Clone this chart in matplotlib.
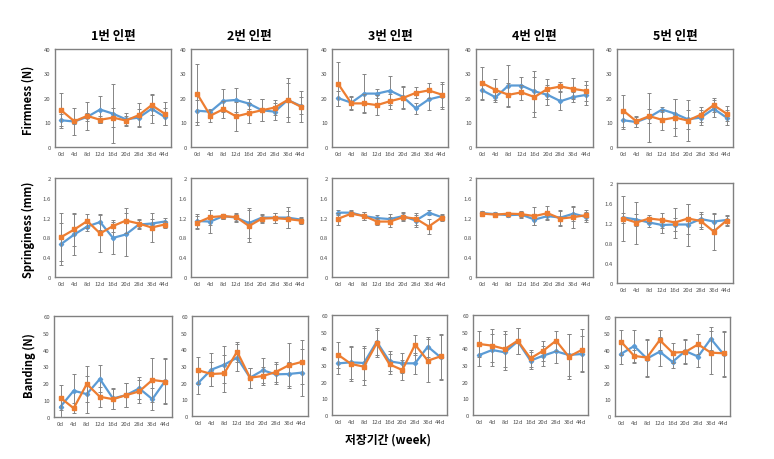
import matplotlib.pyplot as plt

plt.rcParams['font.family'] = ['Noto Sans CJK KR', 'DejaVu Sans']

days = ["0d", "4d", "8d", "12d", "16d", "20d", "28d", "36d", "44d"]
titles = ["1번 인편", "2번 인편", "3번 인편", "4번 인편", "5번 인편"]
ylabels = ["Firmness (N)", "Springiness (mm)", "Banding (N)"]

# Firmness (N): blue / orange series for each 인편
firm_b = [[10.9, 10.4, 12.3, 15.3, 13.6, 11.3, 12.0, 15.6, 12.3],
          [14.8, 14.4, 18.8, 19.2, 17.7, 15.0, 14.4, 19.2, 16.8],
          [19.9, 18.1, 21.8, 21.8, 23.0, 20.5, 15.8, 19.4, 20.7],
          [23.1, 20.3, 25.1, 25.1, 22.7, 21.3, 18.7, 20.4, 21.3],
          [10.9, 10.2, 12.2, 15.3, 13.6, 11.3, 12.0, 15.6, 12.0]]
firm_o = [[14.9, 10.5, 12.7, 11.1, 12.0, 10.8, 13.0, 17.1, 13.6],
          [21.5, 12.8, 15.4, 12.5, 13.8, 15.0, 16.1, 19.2, 16.5],
          [25.6, 17.8, 17.8, 17.1, 18.7, 20.0, 22.1, 23.1, 21.4],
          [26.0, 23.3, 21.3, 22.3, 20.4, 23.7, 24.7, 23.7, 22.9],
          [14.8, 10.5, 12.6, 11.1, 12.0, 10.8, 13.2, 17.1, 13.6]]
firm_b_err = [[2.5, 1.0, 1.5, 5.5, 12.0, 2.6, 3.5, 6.0, 3.5],
              [4.5, 1.2, 4.7, 5.0, 2.0, 4.5, 3.4, 9.0, 3.5],
              [3.0, 2.7, 8.0, 2.0, 6.0, 4.5, 2.2, 4.5, 5.0],
              [3.5, 2.0, 8.2, 3.5, 8.5, 4.0, 3.8, 2.0, 4.0],
              [3.5, 2.0, 10.0, 1.0, 6.0, 4.0, 3.0, 3.5, 3.0]]
firm_o_err = [[7.0, 5.5, 5.8, 1.5, 4.0, 2.0, 5.0, 4.0, 4.8],
              [12.5, 2.5, 3.5, 5.8, 4.2, 4.5, 3.0, 7.0, 6.3],
              [9.0, 2.7, 3.7, 4.0, 3.0, 4.5, 2.3, 3.0, 5.0],
              [6.7, 4.3, 5.0, 3.0, 8.0, 4.0, 2.0, 4.3, 4.0],
              [6.5, 2.3, 3.0, 4.0, 7.5, 8.5, 3.0, 3.0, 3.0]]

# Springiness (mm)
spr_b = [[0.67, 0.86, 1.02, 1.11, 0.79, 0.86, 1.06, 1.08, 1.12],
         [1.13, 1.12, 1.23, 1.20, 1.09, 1.20, 1.20, 1.20, 1.16],
         [1.30, 1.30, 1.23, 1.19, 1.17, 1.23, 1.14, 1.30, 1.21],
         [1.29, 1.27, 1.25, 1.26, 1.16, 1.23, 1.20, 1.28, 1.21],
         [1.31, 1.27, 1.21, 1.16, 1.17, 1.17, 1.28, 1.23, 1.26]]
spr_o = [[0.81, 0.96, 1.13, 0.88, 1.03, 1.14, 1.08, 1.00, 1.06],
         [1.10, 1.21, 1.23, 1.21, 1.03, 1.18, 1.19, 1.17, 1.14],
         [1.18, 1.28, 1.23, 1.12, 1.12, 1.21, 1.18, 1.02, 1.20],
         [1.28, 1.26, 1.28, 1.27, 1.23, 1.29, 1.18, 1.21, 1.25],
         [1.29, 1.21, 1.29, 1.26, 1.21, 1.29, 1.24, 1.03, 1.25]]
spr_b_err = [[0.43, 0.42, 0.10, 0.16, 0.33, 0.44, 0.10, 0.10, 0.07],
             [0.14, 0.24, 0.05, 0.08, 0.30, 0.08, 0.10, 0.21, 0.06],
             [0.05, 0.05, 0.08, 0.07, 0.10, 0.08, 0.12, 0.05, 0.06],
             [0.05, 0.04, 0.04, 0.06, 0.11, 0.05, 0.15, 0.14, 0.10],
             [0.10, 0.12, 0.08, 0.15, 0.13, 0.42, 0.15, 0.15, 0.10]]
spr_o_err = [[0.49, 0.33, 0.15, 0.38, 0.12, 0.25, 0.10, 0.29, 0.07],
             [0.14, 0.15, 0.05, 0.08, 0.32, 0.08, 0.10, 0.17, 0.06],
             [0.12, 0.05, 0.08, 0.07, 0.10, 0.08, 0.12, 0.15, 0.06],
             [0.05, 0.04, 0.04, 0.06, 0.18, 0.14, 0.15, 0.22, 0.10],
             [0.45, 0.42, 0.08, 0.15, 0.30, 0.30, 0.15, 0.37, 0.10]]

# Banding (N)
band_b = [[6.2, 15.6, 13.6, 22.6, 11.0, 13.0, 17.0, 10.6, 21.6],
          [20.0, 27.8, 30.8, 35.0, 23.0, 27.4, 25.0, 25.2, 26.0],
          [31.0, 31.6, 31.2, 44.0, 32.2, 31.0, 31.0, 41.0, 34.6],
          [36.0, 39.0, 37.6, 44.2, 32.6, 35.6, 38.2, 36.0, 36.6],
          [37.8, 42.4, 34.8, 39.0, 32.8, 39.4, 36.0, 46.8, 37.4]]
band_o = [[11.4, 5.2, 19.6, 12.0, 10.6, 13.0, 15.2, 22.0, 21.0],
          [27.4, 25.2, 25.6, 38.6, 23.0, 24.0, 26.4, 30.4, 32.4],
          [36.0, 30.6, 29.0, 43.0, 30.4, 27.0, 42.2, 32.6, 35.2],
          [42.6, 41.6, 39.6, 44.6, 34.0, 38.6, 44.6, 35.0, 39.0],
          [44.8, 36.4, 35.4, 46.0, 38.4, 38.8, 43.4, 38.4, 38.0]]
band_b_err = [[6.0, 9.7, 11.0, 8.0, 6.0, 7.0, 6.6, 6.5, 13.5],
              [6.5, 10.0, 11.0, 8.0, 6.0, 7.4, 6.0, 7.0, 14.0],
              [6.4, 10.0, 10.4, 8.0, 6.0, 6.0, 6.4, 6.0, 13.5],
              [6.6, 9.8, 10.8, 7.8, 5.0, 6.0, 7.0, 12.4, 11.0],
              [6.0, 10.0, 11.0, 8.6, 4.0, 7.0, 6.6, 7.0, 13.6]]
band_o_err = [[7.5, 3.0, 10.6, 6.0, 6.0, 7.0, 6.6, 13.0, 13.5],
              [8.0, 7.0, 11.0, 6.0, 6.0, 5.5, 6.0, 13.5, 13.0],
              [7.6, 10.0, 11.0, 8.0, 6.0, 6.0, 6.0, 13.0, 13.5],
              [7.6, 9.8, 10.8, 7.8, 5.0, 6.0, 6.0, 13.6, 12.6],
              [7.6, 3.6, 11.0, 6.0, 6.0, 7.0, 6.0, 13.0, 13.6]]

blue = "#5B9BD5"
orange = "#ED7D31"
W, H = 774, 460

fig = plt.figure(figsize=(7.74, 4.60), dpi=100)

# pixel boxes (left, top, right, bottom) per row / column
boxes = [
    [(55, 50, 171, 148), (191, 50, 307, 148), (332, 50, 448, 148), (476, 50, 593, 148), (617, 50, 733, 148)],
    [(55, 179, 171, 278), (191, 179, 307, 278), (332, 179, 448, 278), (476, 179, 593, 278), (617, 184, 733, 284)],
    [(54, 317, 172, 418), (192, 317, 308, 417), (332, 316, 447, 416), (473, 316, 588, 416), (615, 318, 730, 417)],
]
ylabel_pos = [(28, 100), (28, 230), (29, 366)]
rows = [(firm_b, firm_o, firm_b_err, firm_o_err, 40, [0, 10, 20, 30, 40], ["0", "10", "20", "30", "40"]),
        (spr_b, spr_o, spr_b_err, spr_o_err, 2, [0, 0.4, 0.8, 1.2, 1.6, 2], ["0", "0.4", "0.8", "1.2", "1.6", "2"]),
        (band_b, band_o, band_b_err, band_o_err, 60, [0, 10, 20, 30, 40, 50, 60], ["0", "10", "20", "30", "40", "50", "60"])]

x = list(range(len(days)))
for r, (vb, vo, eb, eo, ymax, yt, ytl) in enumerate(rows):
    for c in range(5):
        l, t, rr, b = boxes[r][c]
        ax = fig.add_axes([l / W, 1 - b / H, (rr - l) / W, (b - t) / H])
        ax.errorbar(x, vb[c], yerr=eb[c], color=blue, lw=1.6, marker="D", ms=2.2,
                    ecolor="#858585", elinewidth=0.7, capsize=1.3, capthick=0.7, zorder=3)
        ax.errorbar(x, vo[c], yerr=eo[c], color=orange, lw=1.6, marker="s", ms=2.6,
                    ecolor="#858585", elinewidth=0.7, capsize=1.3, capthick=0.7, zorder=4)
        ax.set_xlim(-0.5, 8.5)
        ax.set_ylim(0, ymax)
        ax.set_yticks(yt)
        ax.set_yticklabels(ytl)
        ax.set_xticks(x)
        ax.set_xticklabels(days)
        ax.tick_params(length=0, labelsize=4.3, labelcolor="#505050", pad=3)
        for s in ax.spines.values():
            s.set_color("#808080")
            s.set_linewidth(1.0)
        if r == 0:
            ax.set_title(titles[c], fontsize=9, fontweight="bold", pad=7)
    lx, ly = ylabel_pos[r]
    fig.text(lx / W, 1 - ly / H, ylabels[r], rotation=90, ha="center", va="center",
             fontsize=8, fontweight="bold")

fig.text(388 / W, 1 - 440 / H, "저장기간 (week)", ha="center", va="center",
         fontsize=8.5, fontweight="bold")

fig.savefig("out.png", dpi=100)
